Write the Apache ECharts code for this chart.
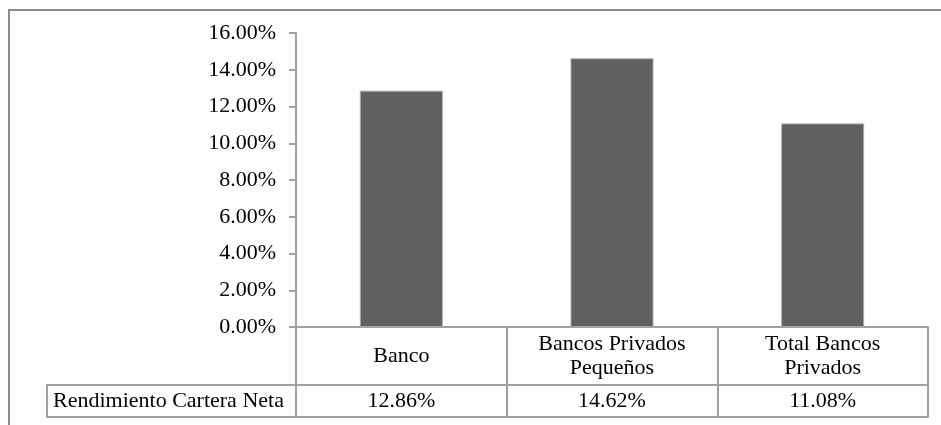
<!DOCTYPE html>
<html>
<head>
<meta charset="utf-8">
<script src="https://cdn.jsdelivr.net/npm/echarts@6/dist/echarts.min.js"></script>
<style>
html,body{margin:0;padding:0;background:#fff;}
#chart{width:941px;height:425px;}
</style>
</head>
<body>
<div id="chart"></div>
<script>
const categories = ['Banco', 'Bancos Privados\nPequeños', 'Total Bancos\nPrivados'];
const seriesName = 'Rendimiento Cartera Neta';
const values = [12.86, 14.62, 11.08];
const yMin = 0, yMax = 16, yInterval = 2;

const FONT = "'Liberation Serif', 'Times New Roman', serif";
const FS = 22;
const LINE = '#a0a0a0';

const gridLeft = 296, gridRight = 13, gridTop = 33, gridBottom = 98;
const catRowH = 58, valRowH = 32;

const chart = echarts.init(document.getElementById('chart'), null, {renderer: 'canvas'});
const fmt = v => v.toFixed(2) + '%';

const option = {
  animation: false,
  backgroundColor: '#fff',
  grid: {left: gridLeft, right: gridRight, top: gridTop, bottom: gridBottom, containLabel: false},
  xAxis: [
    {
      type: 'category', data: categories, position: 'bottom',
      axisLine: {show: true, lineStyle: {color: LINE, width: 2}},
      axisTick: {show: true, alignWithLabel: false, length: catRowH, lineStyle: {color: LINE, width: 2}},
      axisLabel: {fontFamily: FONT, fontSize: FS, color: '#000', margin: catRowH / 2, verticalAlign: 'middle', lineHeight: 24, align: 'center'}
    },
    {
      type: 'category', data: values.map(fmt), position: 'bottom', offset: catRowH,
      axisLine: {show: true, lineStyle: {color: LINE, width: 2}},
      axisTick: {show: true, alignWithLabel: false, length: valRowH, lineStyle: {color: LINE, width: 2}},
      axisLabel: {fontFamily: FONT, fontSize: FS, color: '#000', margin: valRowH / 2, verticalAlign: 'middle'}
    },
    {
      type: 'category', data: categories, position: 'bottom', offset: catRowH + valRowH,
      axisLine: {show: true, lineStyle: {color: LINE, width: 2}},
      axisTick: {show: false}, axisLabel: {show: false}
    }
  ],
  yAxis: {
    type: 'value', min: yMin, max: yMax, interval: yInterval,
    axisLine: {show: true, lineStyle: {color: LINE, width: 2}},
    axisTick: {show: true, length: 7, lineStyle: {color: LINE, width: 2}},
    splitLine: {show: false},
    axisLabel: {fontFamily: FONT, fontSize: FS, color: '#000', margin: 20, formatter: fmt}
  },
  series: [{
    name: seriesName, type: 'bar', data: values, xAxisIndex: 0,
    barWidth: '39.4%',
    itemStyle: {color: '#606060', borderColor: '#a8a8a8', borderWidth: 1}
  }],
  graphic: [
    {type: 'rect', shape: {x: 9, y: 10, width: 960, height: 440}, style: {fill: 'none', stroke: '#8a8a8a', lineWidth: 2}, silent: true, z: -1},
    {type: 'rect', shape: {x: 47, y: 425 - gridBottom + catRowH, width: gridLeft - 47, height: valRowH},
     style: {fill: 'none', stroke: LINE, lineWidth: 2}, silent: true},
    {type: 'text', x: 53, y: 425 - gridBottom + catRowH + valRowH / 2,
     style: {text: seriesName, font: FS + 'px ' + FONT, fill: '#000', textVerticalAlign: 'middle', verticalAlign: 'middle'}, silent: true}
  ]
};
chart.setOption(option);
</script>
</body>
</html>
